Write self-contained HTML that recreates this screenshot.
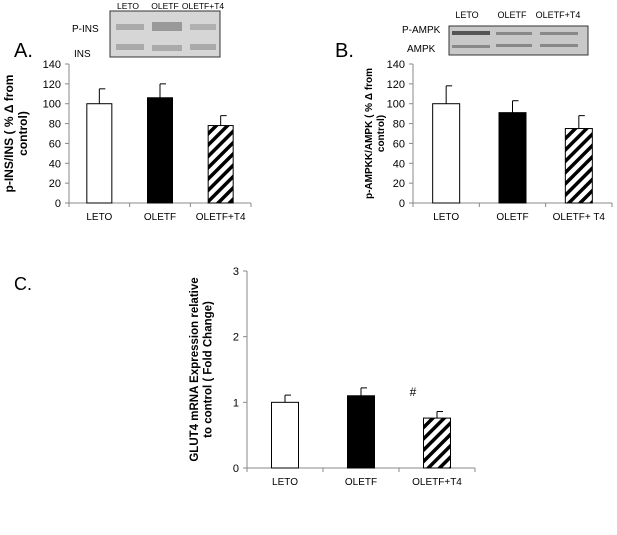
<!DOCTYPE html>
<html><head><meta charset="utf-8"><style>
body{margin:0;background:#fff;width:617px;height:530px;overflow:hidden}
svg{font-family:"Liberation Sans",sans-serif}
</style></head><body>
<svg id="s" width="617" height="530">
<defs><pattern id="hatch" patternUnits="userSpaceOnUse" width="8" height="8" patternTransform="rotate(45)">
<rect width="8" height="8" fill="#fff"/><rect width="3.5" height="8" fill="#000"/></pattern></defs>
<g>
<rect x="110" y="11" width="110" height="46" fill="#d6d6d6" stroke="#333"/>
<rect x="116" y="24" width="28" height="6" fill="#aaa"/><rect x="152" y="22" width="30" height="9" fill="#999"/><rect x="190" y="24" width="26" height="6" fill="#b0b0b0"/>
<rect x="116" y="44" width="28" height="6" fill="#aaa"/><rect x="152" y="45" width="30" height="6" fill="#aaa"/><rect x="190" y="44" width="26" height="6" fill="#aaa"/>
</g>
<g font-size="8.5" fill="#000">
<text x="128" y="9" text-anchor="middle">LETO</text><text x="165" y="9" text-anchor="middle">OLETF</text><text x="203" y="9" text-anchor="middle">OLETF+T4</text>
</g>
<g font-size="10" fill="#000">
<text x="72" y="32">P-INS</text><text x="74" y="57">INS</text>
</g>
<text x="14" y="57" font-size="20">A.</text>
<g>
<rect x="449" y="26" width="139" height="29" fill="#c8c8c8" stroke="#333"/>
<rect x="452" y="31" width="38" height="4" fill="#555"/><rect x="496" y="32" width="36" height="3" fill="#888"/><rect x="540" y="32" width="38" height="3" fill="#888"/>
<rect x="452" y="45" width="38" height="3" fill="#888"/><rect x="496" y="44" width="36" height="3" fill="#888"/><rect x="540" y="44" width="38" height="3" fill="#888"/>
</g>
<g font-size="9" fill="#000">
<text x="467" y="18" text-anchor="middle">LETO</text><text x="512" y="18" text-anchor="middle">OLETF</text><text x="558" y="18" text-anchor="middle">OLETF+T4</text>
</g>
<g font-size="10" fill="#000">
<text x="402" y="33">P-AMPK</text><text x="407" y="52">AMPK</text>
</g>
<text x="335" y="57" font-size="20">B.</text>
<text x="14" y="290" font-size="18">C.</text>
<text x="413" y="396" font-size="12" text-anchor="middle">#</text>
</svg>
<script>
const cats=["LETO","OLETF","OLETF+T4"];
const catsB=["LETO","OLETF","OLETF+ T4"];
const valsA=[100,106,78], errA=[15,14,10];
const valsB=[100,91,75], errB=[18,12,13];
const valsC=[1.0,1.1,0.76], errC=[0.11,0.12,0.1];
const ticksA=[0,20,40,60,80,100,120,140];
const ticksC=[0,1,2,3];
const fills=["#fff","#000","url(#hatch)"];
const S=document.getElementById('s');
const NS="http://www.w3.org/2000/svg";
function mk(t,a,p){const e=document.createElementNS(NS,t);for(const k in a)e.setAttribute(k,a[k]);(p||S).appendChild(e);return e;}
function chart(o){
  const g=mk('g',{});
  
  
  const y=v=>o.y0-(v-o.min)/(o.max-o.min)*(o.y0-o.y1);
  mk('line',{x1:o.ax,y1:o.y1,x2:o.ax,y2:o.y0,stroke:'#888'},g);
  mk('line',{x1:o.ax,y1:o.y0,x2:o.xr,y2:o.y0,stroke:'#888'},g);
  o.ticks.forEach(t=>{
    mk('line',{x1:o.ax-4,y1:y(t),x2:o.ax,y2:y(t),stroke:'#888'},g);
    const tx=mk('text',{x:o.ax-8,y:y(t)+4,'text-anchor':'end','font-size':11},g);tx.textContent=t;
    
    
  });
  const n=o.vals.length, bw=(o.xr-o.ax)/n;
  for(let i=0;i<=n;i++) mk('line',{x1:o.ax+i*bw,y1:o.y0,x2:o.ax+i*bw,y2:o.y0+4,stroke:'#888'},g);
  o.vals.forEach((v,i)=>{
    const cx=o.ax+bw*(i+0.5), w=o.bw;
    mk('line',{x1:cx,y1:y(v),x2:cx,y2:y(v+o.err[i]),stroke:'#000'},g);
    mk('line',{x1:cx,y1:y(v+o.err[i]),x2:cx+6,y2:y(v+o.err[i]),stroke:'#000'},g);
    const r=mk('rect',{x:cx-w/2,y:y(v),width:w,height:o.y0-y(v),fill:fills[i],stroke:'#000','stroke-width':1},g);
    
    
    const l=mk('text',{x:cx,y:o.y0+17,'text-anchor':'middle','font-size':10},g);l.textContent=o.cats[i];
    
    
  });
  const t=mk('text',{transform:`translate(${o.tx},${(o.y0+o.y1)/2}) rotate(-90)`,'text-anchor':'middle','font-size':o.tfs,'font-weight':'bold'},g);
  
  
  o.title.forEach((s,k)=>{const sp=mk('tspan',{x:0,dy:k?o.tfs+2:0},t);sp.textContent=s;});
}
chart({name:'chart-a',vals:valsA,err:errA,cats:cats,ticks:ticksA,min:0,max:140,ax:69,xr:251,y0:203,y1:64,bw:25,tx:13,tfs:12,title:['p-INS/INS ( % Δ from','control)']});
chart({name:'chart-b',vals:valsB,err:errB,cats:catsB,ticks:ticksA,min:0,max:140,ax:413,xr:612,y0:203,y1:64,bw:27,tx:372,tfs:10,title:['p-AMPKK/AMPK ( % Δ from','control)']});
chart({name:'chart-c',vals:valsC,err:errC,cats:cats,ticks:ticksC,min:0,max:3,ax:247,xr:475,y0:468,y1:271,bw:27,tx:198,tfs:11.5,title:['GLUT4  mRNA Expression  relative','to control ( Fold Change)']});
</script>
</body></html>
